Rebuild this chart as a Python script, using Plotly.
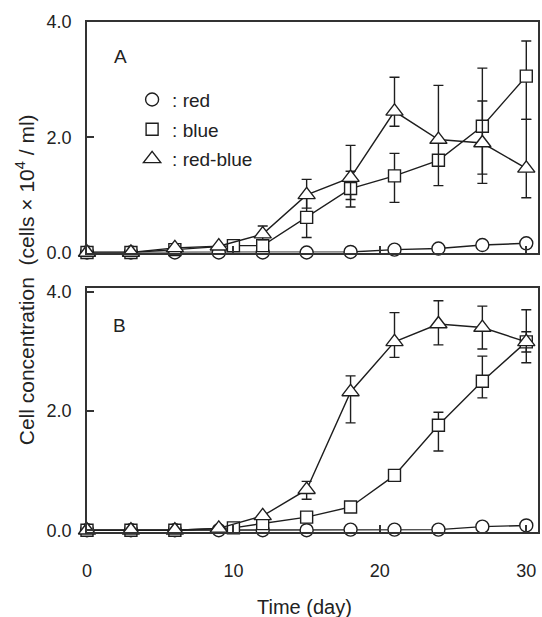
import plotly.graph_objects as go

days = [0, 3, 6, 9, 12, 15, 18, 21, 24, 27, 30]
days_blue = [0, 3, 6, 10, 12, 15, 18, 21, 24, 27, 30]
x_ticks = [0, 10, 20, 30]
y_ticks = [0, 2, 4]
y_tick_labels = ["0.0", "2.0", "4.0"]

# Panel A
red_A = [0.0, 0.0, 0.0, 0.0, 0.0, 0.0, 0.01, 0.05, 0.07, 0.13, 0.16]
blue_A = [0.0, 0.0, 0.05, 0.12, 0.12, 0.61, 1.11, 1.33, 1.60, 2.19, 3.06]
blue_A_up = [0, 0, 0, 0, 0, 0.35, 0.30, 0.39, 0, 1.01, 0.61]
blue_A_dn = [0, 0, 0, 0, 0, 0.35, 0.32, 0.46, 0, 0.99, 0.75]
rb_A = [0.0, 0.0, 0.08, 0.11, 0.32, 1.00, 1.30, 2.45, 1.96, 1.90, 1.46]
rb_A_up = [0, 0, 0, 0, 0.14, 0.27, 0.56, 0.59, 0.94, 0.73, 0.85]
rb_A_dn = [0, 0, 0, 0, 0.10, 0.23, 0.38, 0.26, 0.80, 0.54, 0.51]

# Panel B
red_B = [0.0, 0.0, 0.0, 0.0, 0.0, 0.0, 0.01, 0.01, 0.01, 0.06, 0.08]
blue_B = [0.0, 0.0, 0.0, 0.04, 0.11, 0.22, 0.39, 0.92, 1.76, 2.50, 3.16]
blue_B_up = [0, 0, 0, 0, 0, 0, 0, 0, 0.22, 0.42, 0.17]
blue_B_dn = [0, 0, 0, 0, 0, 0, 0, 0, 0.43, 0.28, 0.17]
rb_B = [0.0, 0.0, 0.0, 0.03, 0.24, 0.68, 2.32, 3.16, 3.46, 3.40, 3.16]
rb_B_up = [0, 0, 0, 0, 0, 0.14, 0.27, 0.49, 0.39, 0.36, 0.54]
rb_B_dn = [0, 0, 0, 0, 0, 0.16, 0.52, 0.26, 0.35, 0.36, 0.35]

INK = "#1e1e1e"
TXT = "#222222"
FONT = "Liberation Sans, Arial, sans-serif"

fig = go.Figure()


def add_series(x, y, up, dn, symbol, size, xa, ya, name):
    err = None
    if up is not None:
        err = dict(type="data", symmetric=False, array=up, arrayminus=dn,
                   color=INK, thickness=1.4, width=5)
    fig.add_trace(go.Scatter(
        x=x, y=y, mode="lines+markers", xaxis=xa, yaxis=ya,
        name=name, showlegend=False, cliponaxis=False,
        line=dict(color=INK, width=1.4),
        marker=dict(symbol=symbol, size=size, color="white",
                    line=dict(color=INK, width=1.4)),
        error_y=err,
    ))


add_series(days, red_A, None, None, "circle", 13, "x", "y", "red")
add_series(days_blue, blue_A, blue_A_up, blue_A_dn, "square", 12, "x", "y", "blue")
add_series(days, rb_A, rb_A_up, rb_A_dn, "triangle-up", 15, "x", "y", "red-blue")

add_series(days, red_B, None, None, "circle", 13, "x2", "y2", "red")
add_series(days_blue, blue_B, blue_B_up, blue_B_dn, "square", 12, "x2", "y2", "blue")
add_series(days, rb_B, rb_B_up, rb_B_dn, "triangle-up", 15, "x2", "y2", "red-blue")

# legend-only entries (symbols without lines)
for nm, sym, sz, grp in [(": red", "circle", 13, "g1"), (": blue", "square", 12, "g2"),
                         (": red-blue", "triangle-up", 15, "g3")]:
    fig.add_trace(go.Scatter(
        x=[None], y=[None], mode="markers", name=nm, legendgroup=grp,
        marker=dict(symbol=sym, size=sz, color="white", line=dict(color=INK, width=1.4)),
        xaxis="x", yaxis="y",
    ))

axis_common = dict(showline=True, linecolor="#333333", linewidth=1.6, mirror=True,
                   showgrid=False, zeroline=False, ticks="inside", ticklen=7,
                   tickcolor="#333333", tickwidth=1.6,
                   tickfont=dict(family=FONT, size=18, color=TXT))

fig.update_layout(
    width=542, height=617,
    margin=dict(l=87, r=2, t=22, b=85),
    paper_bgcolor="white", plot_bgcolor="white",
    font=dict(family=FONT, size=18, color=TXT),
    showlegend=True,
    legend=dict(x=0.1, y=0.885, xanchor="left", yanchor="top",
                bgcolor="rgba(0,0,0,0)", font=dict(size=19, color=TXT),
                tracegroupgap=2, itemwidth=30),
    xaxis=dict(domain=[0, 1], range=[0, 30.8], tickvals=x_ticks, showticklabels=False,
               anchor="y", **axis_common),
    yaxis=dict(domain=[0.548, 1.0], range=[0, 4.0], tickvals=y_ticks,
               ticktext=y_tick_labels, ticklabelstandoff=10, anchor="x", **axis_common),
    xaxis2=dict(domain=[0, 1], range=[0, 30.8], tickvals=x_ticks, anchor="y2",
                ticklabelstandoff=22, **axis_common),
    yaxis2=dict(domain=[0, 0.478], range=[-0.03, 4.06], tickvals=y_ticks,
                ticktext=y_tick_labels, ticklabelstandoff=10, anchor="x2", **axis_common),
    annotations=[
        dict(text="A", xref="paper", yref="paper", x=(121 - 87) / 453, y=(532 - 57) / 510,
             showarrow=False, xanchor="center", yanchor="middle", font=dict(size=19)),
        dict(text="B", xref="paper", yref="paper", x=(120 - 87) / 453, y=(532 - 325) / 510,
             showarrow=False, xanchor="center", yanchor="middle", font=dict(size=19)),
        dict(text="Cell concentration  (cells × 10<sup>4</sup> / ml)", xref="paper", yref="paper",
             x=(25 - 87) / 453, y=(532 - 280) / 510, textangle=-90, showarrow=False,
             xanchor="center", yanchor="middle", font=dict(size=21)),
        dict(text="Time (day)", xref="paper", yref="paper", x=(305 - 87) / 453,
             y=(532 - 607) / 510, showarrow=False, xanchor="center", yanchor="middle",
             font=dict(size=20)),
    ],
)

fig.write_html("out.html")
